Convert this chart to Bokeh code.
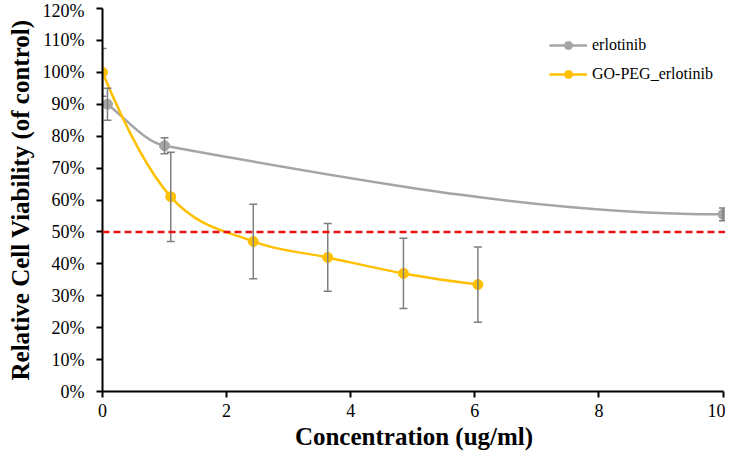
import numpy as np
from bokeh.plotting import figure
from bokeh.models import (Range1d, Whisker, ColumnDataSource, Span, Legend, LegendItem,
                          FixedTicker, TeeHead)
from bokeh.embed import file_html
from bokeh.resources import INLINE

# ---------------- data ----------------
erl_x = [0.08, 1.0, 10.0]
erl_y = [90.0, 77.0, 55.5]
erl_err = [5.0, 2.5, 2.0]

go_x = [0.0, 1.1, 2.43, 3.63, 4.85, 6.05]
go_y = [100.0, 61.0, 47.0, 42.0, 37.0, 33.5]
go_err = [7.5, 14.0, 11.7, 10.6, 11.0, 11.8]

threshold = 50.0

x_ticks = [0, 2, 4, 6, 8, 10]
y_ticks = [0, 10, 20, 30, 40, 50, 60, 70, 80, 90, 100, 110, 120]
y_tick_labels = ["0%", "10%", "20%", "30%", "40%", "50%", "60%", "70%",
                 "80%", "90%", "100%", "110%", "120%"]

x_title = "Concentration (ug/ml)"
y_title = "Relative Cell Viability (of control)"
names = ["erlotinib", "GO-PEG_erlotinib"]

GRAY = "#A5A5A5"
GOLD = "#FFC000"
ERR = "#7F7F7F"
FONT = "Liberation Serif"


def smooth_segments(xs, ys):
    """Cubic Hermite (shape-preserving ends) expressed as Bezier control points."""
    xs = np.asarray(xs, float)
    ys = np.asarray(ys, float)
    h = np.diff(xs)
    d = np.diff(ys) / h
    n = len(xs)
    m = np.zeros(n)
    m[1:-1] = (ys[2:] - ys[:-2]) / (xs[2:] - xs[:-2])
    m0 = ((2 * h[0] + h[1]) * d[0] - h[0] * d[1]) / (h[0] + h[1])
    if np.sign(m0) != np.sign(d[0]):
        m0 = 0.0
    me = ((2 * h[-1] + h[-2]) * d[-1] - h[-1] * d[-2]) / (h[-1] + h[-2])
    if np.sign(me) != np.sign(d[-1]):
        me = 0.0
    m[0], m[-1] = m0, me
    return dict(
        x0=xs[:-1], y0=ys[:-1], x1=xs[1:], y1=ys[1:],
        cx0=xs[:-1] + h / 3, cy0=ys[:-1] + m[:-1] * h / 3,
        cx1=xs[1:] - h / 3, cy1=ys[1:] - m[1:] * h / 3,
    )


p = figure(width=725, height=455, output_backend="svg", toolbar_location=None,
           x_range=Range1d(0, 10.04), y_range=Range1d(0, 120),
           min_border_left=102, min_border_right=0, min_border_top=8, min_border_bottom=64)
p.outline_line_color = None
p.xgrid.visible = False
p.ygrid.visible = False
p.background_fill_color = "white"

# threshold line
p.add_layout(Span(location=threshold, dimension="width", line_color="#EE1111",
                  line_width=2.5, line_dash="7 4"))

# curves
for xs, ys, col in [(erl_x, erl_y, GRAY), (go_x, go_y, GOLD)]:
    seg = ColumnDataSource(smooth_segments(xs, ys))
    p.bezier(x0="x0", y0="y0", x1="x1", y1="y1", cx0="cx0", cy0="cy0",
             cx1="cx1", cy1="cy1", source=seg, line_color=col, line_width=2.5)

# error bars
for xs, ys, es in [(erl_x, erl_y, erl_err), (go_x, go_y, go_err)]:
    src = ColumnDataSource(dict(base=xs,
                                upper=[a + b for a, b in zip(ys, es)],
                                lower=[a - b for a, b in zip(ys, es)]))
    w = Whisker(base="base", upper="upper", lower="lower", source=src,
                line_color=ERR, line_width=1.5,
                upper_head=TeeHead(size=8, line_color=ERR, line_width=1.5),
                lower_head=TeeHead(size=8, line_color=ERR, line_width=1.5))
    w.level = "glyph"
    p.add_layout(w)

# markers (legend line uses a one-point line so nothing extra is drawn on the plot)
items = []
for xs, ys, col, name in [(erl_x, erl_y, GRAY, names[0]), (go_x, go_y, GOLD, names[1])]:
    lr = p.line(x=xs[:1], y=ys[:1], line_color=col, line_width=2.5)
    sr = p.scatter(x=xs, y=ys, marker="circle", size=10, fill_color=col, line_color=col)
    items.append(LegendItem(label=name, renderers=[lr, sr]))

legend = Legend(items=items, location=(447, 307), border_line_color=None,
                background_fill_alpha=0, padding=0, margin=0, spacing=9,
                glyph_width=38, glyph_height=20, label_height=20, label_standoff=5,
                label_text_font=FONT, label_text_font_size="16px",
                label_text_color="black")
p.add_layout(legend)

# axes
p.xaxis.ticker = FixedTicker(ticks=x_ticks)
p.xaxis.bounds = (0, 10)
p.yaxis.ticker = FixedTicker(ticks=y_ticks)
p.yaxis.major_label_overrides = {t: l for t, l in zip(y_ticks, y_tick_labels)}
for ax in (p.xaxis, p.yaxis):
    ax.axis_line_color = "black"
    ax.axis_line_width = 2
    ax.major_tick_line_color = "black"
    ax.major_tick_line_width = 2
    ax.major_tick_out = 6
    ax.major_tick_in = 0
    ax.minor_tick_line_color = None
    ax.major_label_text_font = FONT
    ax.major_label_text_font_size = "18px"
    ax.major_label_text_color = "black"
    ax.axis_label_text_font = FONT
    ax.axis_label_text_font_style = "bold"
    ax.axis_label_text_font_size = "25px"
    ax.axis_label_text_color = "black"
p.xaxis.axis_label = x_title
p.yaxis.axis_label = y_title
p.xaxis.major_label_standoff = 6
p.xaxis.axis_label_standoff = 3
p.yaxis.major_label_standoff = 12
p.yaxis.axis_label_standoff = 6

open("out.html", "w").write(file_html(p, INLINE))
